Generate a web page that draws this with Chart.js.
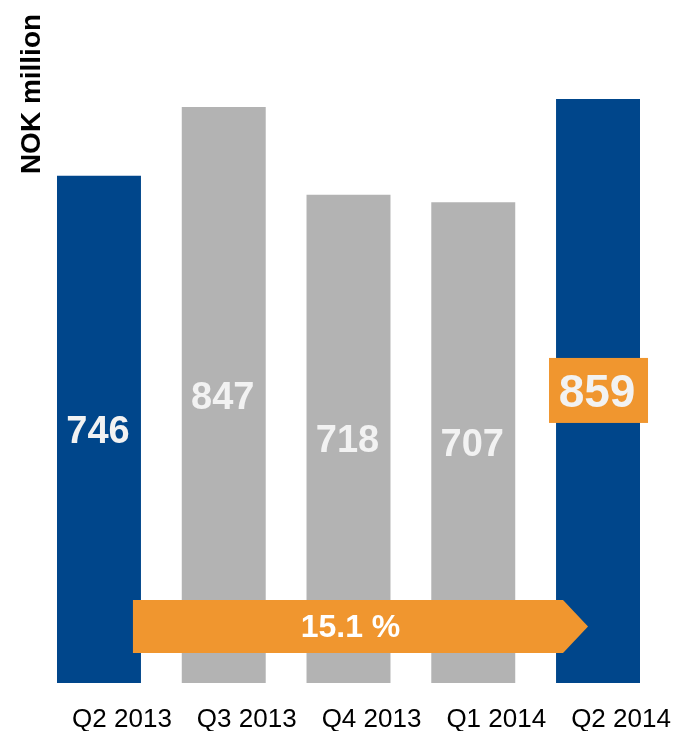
<!DOCTYPE html>
<html>
<head>
<meta charset="utf-8">
<script src="https://cdn.jsdelivr.net/npm/chart.js@4/dist/chart.umd.min.js"></script>
<style>
  html, body { margin: 0; padding: 0; background: #fff; }
  #wrap { width: 682px; height: 731px; }
</style>
</head>
<body>
<div id="wrap"><canvas id="chart"></canvas></div>
<script>
const quarters = ['Q2 2013', 'Q3 2013', 'Q4 2013', 'Q1 2014', 'Q2 2014'];
const revenue = [746, 847, 718, 707, 859];
const barColors = ['#00468b', '#b3b3b3', '#b3b3b3', '#b3b3b3', '#00468b'];
const highlightIndex = 4;
const growthLabel = '15.1 %';
const growthBand = [44, 122]; // arrow band, in NOK million on the y scale

const FONT = '"Liberation Sans", Arial, sans-serif';
const ORANGE = '#f0962f';

// value labels + highlighted box + growth arrow + axis title
const overlay = {
    id: 'overlay',
    afterDatasetsDraw(chart) {
        const ctx = chart.ctx;
        const meta = chart.getDatasetMeta(0);
        const y = chart.scales.y;

        ctx.save();
        ctx.textAlign = 'center';
        ctx.textBaseline = 'middle';

        meta.data.forEach((bar, i) => {
            const { x, y: top, base } = bar.getProps(['x', 'y', 'base'], true);
            const mid = (top + base) / 2;
            if (i === highlightIndex) {
                ctx.fillStyle = ORANGE;
                ctx.fillRect(x - 49, mid - 33, 99, 65);
                ctx.font = 'bold 46px ' + FONT;
            } else {
                ctx.font = 'bold 38px ' + FONT;
            }
            ctx.fillStyle = '#f2f2f2';
            ctx.fillText(String(revenue[i]), x - 1, mid + 3);
        });

        // growth arrow from first to last bar
        const first = meta.data[0].getProps(['x', 'width'], true);
        const last = meta.data[highlightIndex].getProps(['x'], true);
        const x0 = first.x + first.width / 2 - 8;
        const tip = last.x - 10;
        const yTop = y.getPixelForValue(growthBand[1]);
        const yBot = y.getPixelForValue(growthBand[0]);
        const yMid = (yTop + yBot) / 2;
        ctx.fillStyle = ORANGE;
        ctx.beginPath();
        ctx.moveTo(x0, yTop);
        ctx.lineTo(tip - 25, yTop);
        ctx.lineTo(tip, yMid);
        ctx.lineTo(tip - 25, yBot);
        ctx.lineTo(x0, yBot);
        ctx.closePath();
        ctx.fill();

        ctx.fillStyle = '#ffffff';
        ctx.font = 'bold 32px ' + FONT;
        ctx.fillText(growthLabel, (x0 + tip) / 2 - 10, yMid + 2);

        // y axis title
        ctx.translate(31, 94);
        ctx.rotate(-Math.PI / 2);
        ctx.fillStyle = '#000000';
        ctx.font = 'bold 28px ' + FONT;
        ctx.fillText('NOK million', 0, 1);
        ctx.restore();
    }
};

new Chart(document.getElementById('chart').getContext('2d'), {
    type: 'bar',
    data: {
        labels: quarters,
        datasets: [{
            data: revenue,
            backgroundColor: barColors,
            borderWidth: 0,
            barPercentage: 0.673,
            categoryPercentage: 1
        }]
    },
    options: {
        responsive: true,
        maintainAspectRatio: false,
        animation: false,
        layout: {
            padding: { left: 36.6, right: 21.6, top: 71, bottom: 0 }
        },
        plugins: {
            legend: { display: false },
            tooltip: { enabled: false }
        },
        scales: {
            x: {
                grid: { display: false, drawTicks: false },
                border: { display: false },
                ticks: {
                    color: '#000000',
                    padding: 21,
                    labelOffset: 23,
                    font: { family: FONT, size: 26 }
                },
                afterFit: (s) => { s.height = 48; }
            },
            y: {
                display: false,
                min: 0,
                max: 900
            }
        }
    },
    plugins: [overlay]
});
</script>
</body>
</html>
